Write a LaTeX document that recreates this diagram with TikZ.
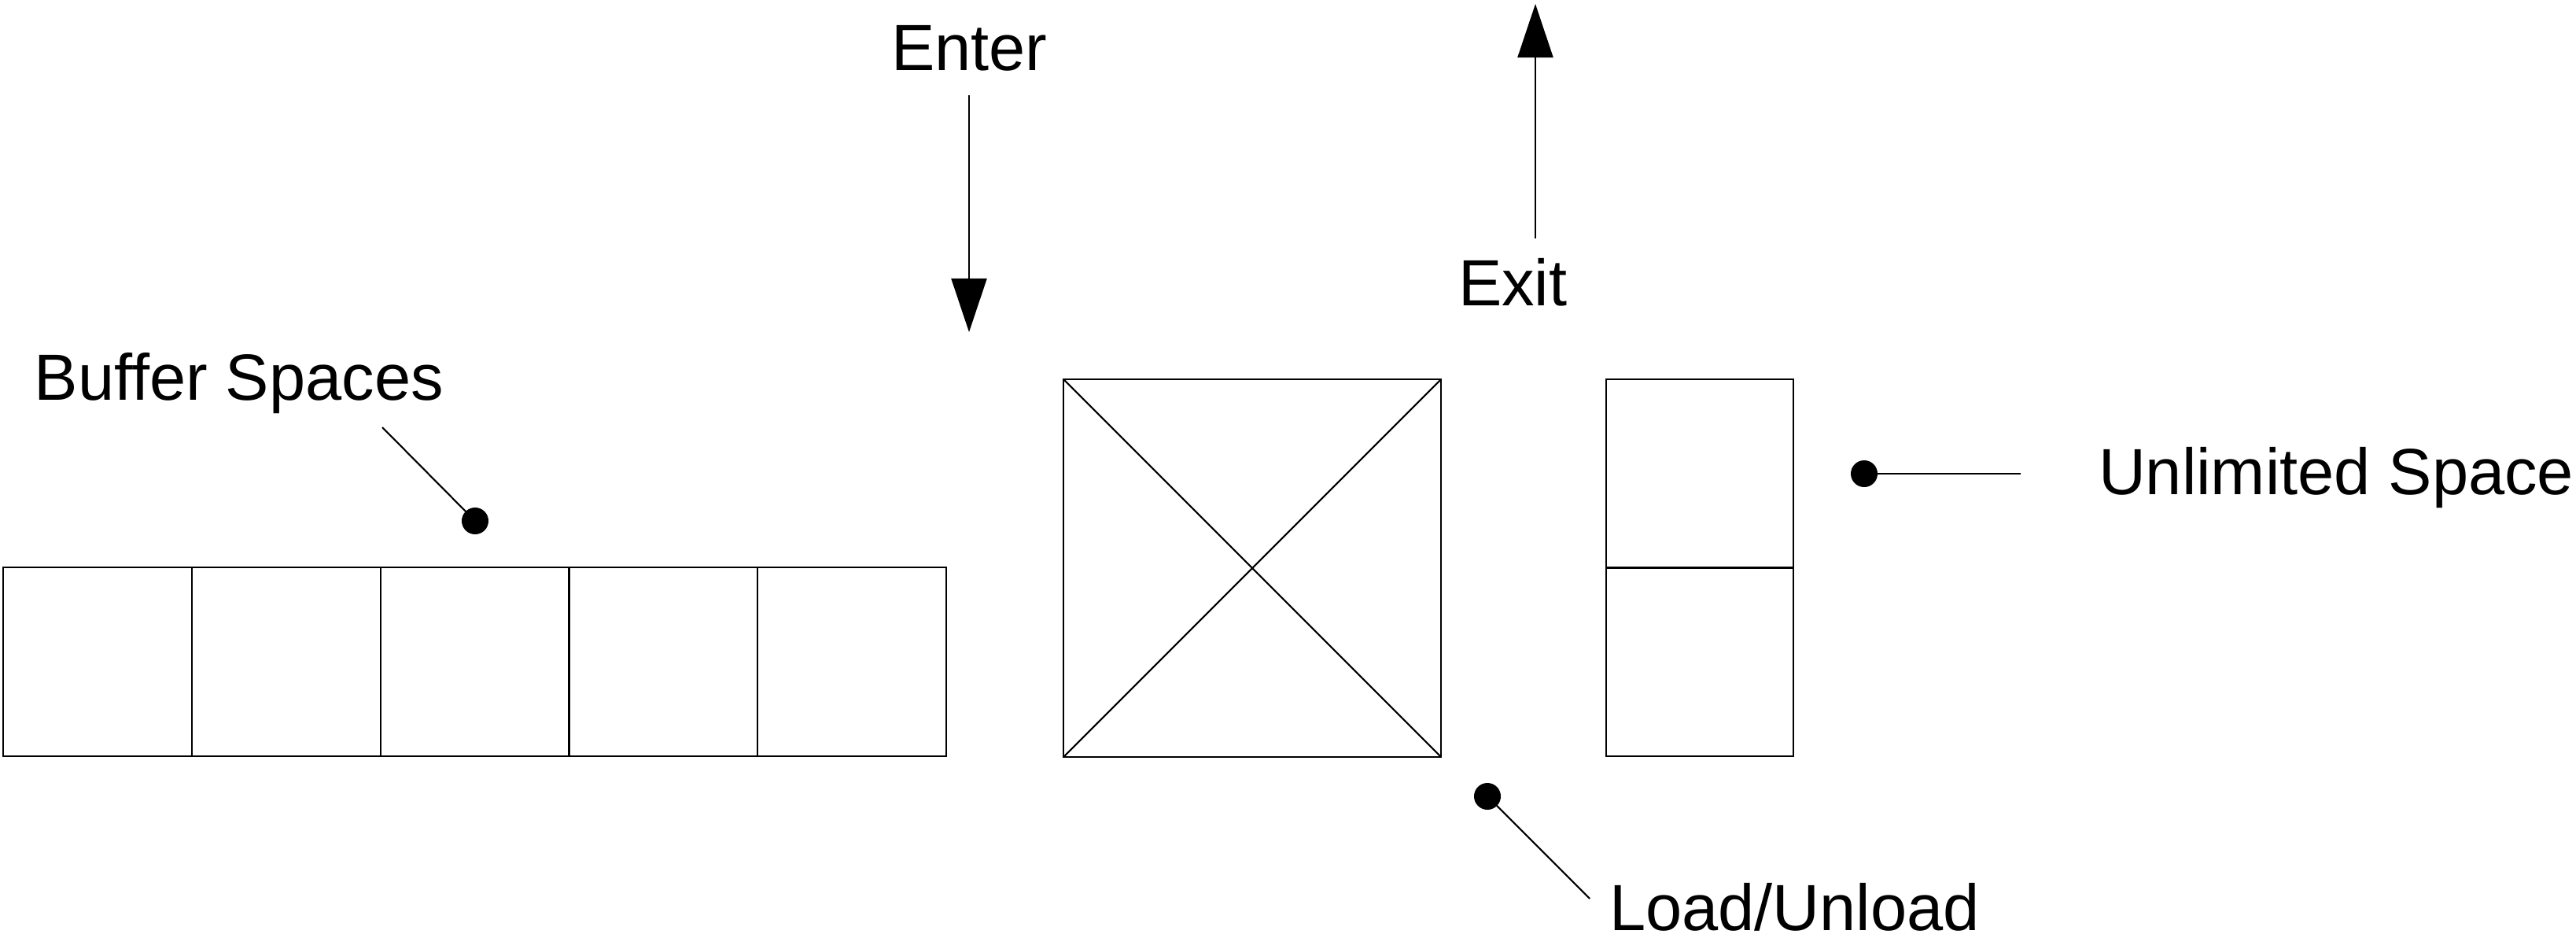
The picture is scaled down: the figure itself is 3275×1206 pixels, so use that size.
\documentclass[tikz,border=0pt]{standalone}
\usepackage{fontspec}
\setmainfont{Liberation Sans}
\usetikzlibrary{arrows.meta}
\begin{document}
\begin{tikzpicture}[x=0.01cm,y=-0.01cm,
  every node/.style={inner sep=0pt,outer sep=0pt},
  lw/.style={line width=0.6pt},
  cell/.style={draw,lw,minimum width=2.398cm,minimum height=2.4cm},
  bigcell/.style={draw,lw,minimum width=4.79cm,minimum height=4.79cm},
  rcell/.style={draw,lw,minimum width=2.38cm,minimum height=2.395cm},
  lbl/.style={anchor=base west,font=\fontsize{23.6pt}{28pt}\selectfont},
  dot/.style={circle,fill=black,minimum size=0.34cm},
  lead/.style={lw},
  flow/.style={lw,-{Triangle[length=0.68cm,width=0.45cm]}}]
\useasboundingbox (0,0) rectangle (3275,1206);
% buffer spaces
\node[cell] (b1) at (124,841) {};
\node[cell] (b2) at (364,841) {};
\node[cell] (b3) at (604,841) {};
\node[cell] (b4) at (843,841) {};
\node[cell] (b5) at (1083,841) {};
% load/unload station
\node[bigcell] (lu) at (1592,722) {};
\draw[lw] (lu.north west) -- (lu.south east);
\draw[lw] (lu.north east) -- (lu.south west);
% unlimited space
\node[rcell] (u1) at (2161,602) {};
\node[rcell] (u2) at (2161,841) {};
% labels
\node[lbl] (enter) at (1133,89) {Enter};
\node[lbl] (exit) at (1854,388) {Exit};
\node[lbl] (buf) at (44,508) {Buffer Spaces};
\node[lbl] (unl) at (2668,628) {Unlimited Space};
\node[lbl] (load) at (2046,1182) {Load/Unload};
% flow arrows
\coordinate (enterA) at (1232,121);
\coordinate (enterB) at (1232,422);
\draw[flow] (enterA) -- (enterB);
\coordinate (exitA) at (1952,303);
\coordinate (exitB) at (1952,5);
\draw[flow] (exitA) -- (exitB);
% leaders
\node[dot] (bdot) at (604,662) {};
\coordinate (bend) at (486,543);
\draw[lead] (bdot.center) -- (bend);
\node[dot] (udot) at (2370,602) {};
\coordinate (uend) at (2569,602);
\draw[lead] (udot.center) -- (uend);
\node[dot] (ldot) at (1891,1012) {};
\coordinate (lend) at (2021,1142);
\draw[lead] (ldot.center) -- (lend);
\end{tikzpicture}
\end{document}
